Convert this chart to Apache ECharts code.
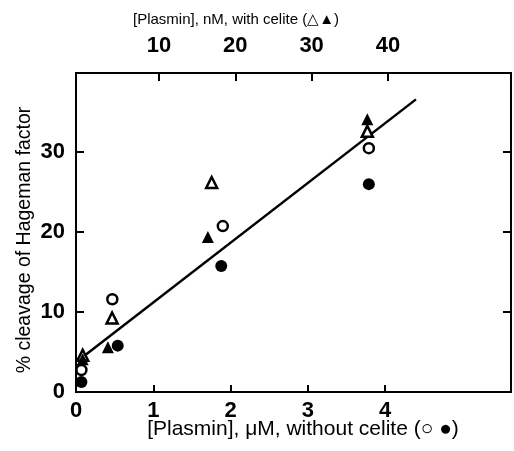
<!DOCTYPE html>
<html>
<head>
<meta charset="utf-8">
<style>
  html, body { margin: 0; padding: 0; background: #fff; }
  #chart { width: 514px; height: 451px; }
</style>
<script src="https://cdn.jsdelivr.net/npm/echarts@6/dist/echarts.min.js"></script>
</head>
<body>
<div id="chart"></div>
<script>
  // without celite, bottom axis (uM)
  const openCircleX = [0.07, 0.47, 1.90, 3.79];
  const openCircleY = [2.75, 11.6, 20.75, 30.5];
  const filledCircleX = [0.07, 0.54, 1.88, 3.79];
  const filledCircleY = [1.25, 5.8, 15.75, 26.0];

  // with celite, top axis (nM)
  const openTriangleX = [0, 3.85, 16.9, 37.3];
  const openTriangleY = [4.6, 9.25, 26.2, 32.6];
  const filledTriangleX = [0, 3.3, 16.4, 37.3];
  const filledTriangleY = [4.1, 5.6, 19.4, 34.1];

  // fitted line end points (uM, %)
  const fitX = [0.05, 4.4];
  const fitY = [4.1, 36.6];

  const bottomTicks = [1, 2, 3, 4];
  const bottomLabels = [0, 1, 2, 3, 4];
  const topTicks = [10, 20, 30, 40];
  const yTicks = [10, 20, 30];
  const yLabels = [0, 10, 20, 30];

  const tickFont = '"Liberation Sans", Arial, sans-serif';
  const titleFont = '"Liberation Sans", Arial, sans-serif';

  const pairs = (xs, ys) => xs.map((x, i) => [x, ys[i]]);

  const chart = echarts.init(document.getElementById('chart'));

  const tickLabel = {
    color: '#000',
    fontFamily: tickFont,
    fontWeight: 'bold',
    fontSize: 22
  };
  const lineBlack = { color: '#000', width: 2 };

  chart.setOption({
    animation: false,
    grid: {
      left: 76,
      right: 3,
      top: 73,
      bottom: 59,
      show: true,
      borderColor: '#000',
      borderWidth: 2
    },
    xAxis: [
      {
        type: 'value',
        position: 'bottom',
        min: 0,
        max: 5.63,
        splitLine: { show: false },
        axisLine: { onZero: false, lineStyle: lineBlack },
        axisTick: { inside: true, length: 7, lineStyle: lineBlack, customValues: bottomTicks },
        axisLabel: Object.assign({ margin: 8, customValues: bottomLabels }, tickLabel)
      },
      {
        type: 'value',
        position: 'top',
        min: -0.88,
        max: 56.13,
        splitLine: { show: false },
        axisLine: { onZero: false, lineStyle: lineBlack },
        axisTick: { inside: true, length: 8, lineStyle: lineBlack, customValues: topTicks },
        axisLabel: Object.assign({ margin: 16, customValues: topTicks }, tickLabel)
      }
    ],
    yAxis: [
      {
        type: 'value',
        position: 'left',
        min: 0,
        max: 39.9,
        splitLine: { show: false },
        axisLine: { show: true, onZero: false, lineStyle: lineBlack },
        axisTick: { show: true, inside: true, length: 8, lineStyle: lineBlack, customValues: yTicks },
        axisLabel: Object.assign({ margin: 11, customValues: yLabels }, tickLabel)
      },
      {
        type: 'value',
        position: 'right',
        min: 0,
        max: 39.9,
        splitLine: { show: false },
        axisLine: { show: true, onZero: false, lineStyle: lineBlack },
        axisTick: { show: true, inside: true, length: 8, lineStyle: lineBlack, customValues: yTicks },
        axisLabel: { show: false }
      }
    ],
    graphic: [
      {
        type: 'text', x: 236, y: 20,
        style: { text: '[Plasmin], nM, with celite (\u25b3\u25b2)', font: '15px ' + titleFont, fill: '#000', align: 'center', verticalAlign: 'middle' }
      },
      {
        type: 'text', x: 303, y: 429,
        style: { text: '[Plasmin], \u03bcM, without celite (\u25cb \u25cf)', font: '21px ' + titleFont, fill: '#000', align: 'center', verticalAlign: 'middle' }
      },
      {
        type: 'text', x: 25, y: 240, rotation: Math.PI / 2,
        style: { text: '% cleavage of Hageman factor', font: '19.5px ' + titleFont, fill: '#000', align: 'center', verticalAlign: 'middle' }
      }
    ],
    series: [
      {
        name: 'fit',
        type: 'line',
        xAxisIndex: 0,
        yAxisIndex: 0,
        data: pairs(fitX, fitY),
        symbol: 'none',
        lineStyle: { color: '#000', width: 2.5 },
        z: 1
      },
      {
        name: 'open circle',
        type: 'scatter',
        xAxisIndex: 0,
        data: pairs(openCircleX, openCircleY),
        symbol: 'circle',
        symbolSize: 10,
        itemStyle: { color: '#fff', borderColor: '#000', borderWidth: 2.5, opacity: 1 },
        z: 3
      },
      {
        name: 'filled circle',
        type: 'scatter',
        xAxisIndex: 0,
        data: pairs(filledCircleX, filledCircleY),
        symbol: 'circle',
        symbolSize: 12,
        itemStyle: { color: '#000', opacity: 1 },
        z: 3
      },
      {
        name: 'open triangle',
        type: 'scatter',
        xAxisIndex: 1,
        data: pairs(openTriangleX, openTriangleY),
        symbol: 'triangle',
        symbolSize: 11,
        itemStyle: { color: '#fff', borderColor: '#000', borderWidth: 2.5, opacity: 1 },
        z: 3
      },
      {
        name: 'filled triangle',
        type: 'scatter',
        xAxisIndex: 1,
        data: pairs(filledTriangleX, filledTriangleY),
        symbol: 'triangle',
        symbolSize: 12,
        itemStyle: { color: '#000', opacity: 1 },
        z: 3
      }
    ]
  });
</script>
</body>
</html>
